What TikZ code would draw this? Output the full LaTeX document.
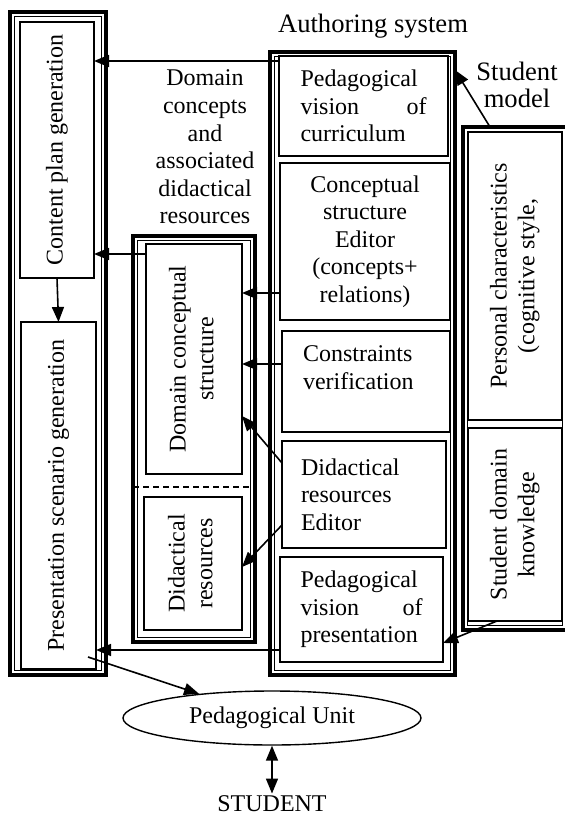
\documentclass[tikz,border=0pt]{standalone}
\usepackage{fontspec}
\setmainfont{Liberation Serif}
\usetikzlibrary{arrows.meta,shapes.geometric}

\begin{document}
\begin{tikzpicture}[x=0.5pt, y=-0.5pt,
  font=\fontsize{12}{13.8}\selectfont,
  cell/.style={draw, line width=0.8pt, inner sep=0pt, outer sep=0pt},
  thickbox/.style={draw, line width=2.2pt, inner sep=0pt, outer sep=0pt,
    path picture={\draw[line width=0.6pt]
      ([shift={(2.4pt,-2.4pt)}]path picture bounding box.north west) rectangle
      ([shift={(-2.4pt,2.4pt)}]path picture bounding box.south east);}},
  biglabel/.style={font=\fontsize{13.3}{13.8}\selectfont, align=center},
  arr/.style={-{Triangle[length=7.5pt,width=6pt]}, line width=0.8pt},
  dbl/.style={{Triangle[length=7.5pt,width=6pt]}-{Triangle[length=7.5pt,width=6pt]}, line width=0.8pt}]
\useasboundingbox (0,0) rectangle (565,818);

\node[thickbox, minimum width=48pt, minimum height=331.5pt] (gen) at (58,343.5) {};
\node[cell, minimum width=37pt, minimum height=128pt] (cpg) at (57,150) {\rotatebox{90}{Content plan generation}};
\node[cell, minimum width=37.5pt, minimum height=173.5pt] (psg) at (58.5,495.5) {\rotatebox{90}{Presentation scenario generation}};

\node (domlbl) [align=center] at (205,147) {Domain\\concepts\\and\\associated\\didactical\\resources};
\node[thickbox, minimum width=61pt, minimum height=203pt] (dom) at (194,439) {};
\node[cell, minimum width=48pt, minimum height=115pt] (dcs) at (194,359) {\rotatebox{90}{\begin{tabular}{@{}c@{}}Domain conceptual\\structure\end{tabular}}};
\node[cell, minimum width=49pt, minimum height=66.5pt] (dr) at (193,563.5) {\rotatebox{90}{\begin{tabular}{@{}c@{}}Didactical\\resources\end{tabular}}};
\draw[dashed, dash pattern=on 3pt off 2pt, line width=0.6pt] (dom.west |- 0,487) -- (dom.east |- 0,487);

\node (authlbl) [biglabel] at (373,26) {Authoring system};
\node[thickbox, minimum width=92.5pt, minimum height=311.5pt] (auth) at (362.5,363.5) {};
\node[cell, minimum width=84.5pt, minimum height=50pt, text width=63pt, align=left] (pvc) at (363.5,106)
  {Pedagogical\\\makebox[63pt]{vision\hfill of}\\curriculum};
\node[cell, minimum width=85pt, minimum height=78.5pt, text width=63pt, align=center] (cse) at (365,241.5)
  {Conceptual\\structure\\Editor\\(concepts+\\relations)};
\node[cell, minimum width=84pt, minimum height=50.5pt, text width=63pt, align=left] (cv) at (366,381.5)
  {Constraints\\verification\\~};
\node[cell, minimum width=82pt, minimum height=53.5pt, text width=63pt, align=left] (dre) at (364,494.5)
  {Didactical\\resources\\Editor};
\node[cell, minimum width=81.5pt, minimum height=52.5pt, text width=61pt, align=left] (pvp) at (361.5,609.5)
  {Pedagogical\\\makebox[61pt]{vision\hfill of}\\presentation};

\node (studlbl) [biglabel] at (517,85) {Student\\model};
\node[thickbox, minimum width=52pt, minimum height=251.5pt] (stud) at (515,378.5) {};
\node[cell, minimum width=47pt, minimum height=144pt] (pc) at (515,276) {\rotatebox{90}{\begin{tabular}{@{}c@{}}Personal characteristics\\(cognitive style,\end{tabular}}};
\node[cell, minimum width=47pt, minimum height=96.5pt] (sdk) at (515,524.5) {\rotatebox{90}{\begin{tabular}{@{}c@{}}Student domain\\knowledge\end{tabular}}};

\node[draw, ellipse, line width=0.7pt, minimum width=149pt, minimum height=27pt, inner sep=0pt] (pu) at (272,718) {Pedagogical Unit};
\node[inner sep=1pt] (stu) at (272,804) {STUDENT};

\draw[arr] (pvc.west |- 0,61) -- (cpg.east |- 0,61);
\draw[arr] (dcs.west |- 0,254) -- (cpg.east |- 0,254);
\draw[arr] (cpg.south) -- (psg.north);
\draw[arr] (cse.west |- 0,293) -- (dcs.east |- 0,293);
\draw[arr] (cv.west |- 0,364) -- (dcs.east |- 0,364);
\draw[arr] (dre.west |- 0,463) -- (dcs.east |- 0,416);
\draw[arr] (dre.west |- 0,525) -- (dr.east |- 0,567);
\draw[arr] (pvp.west |- 0,650) -- (psg.east |- 0,650);
\draw[arr] ([xshift=-4pt,yshift=6pt]psg.south east) -- (pu);
\draw[dbl] (pu.south) -- (stu.north);
\draw[arr] ([xshift=-12.5pt]stud.north) -- (auth.east |- 0,70);
\draw[arr] ([xshift=-9pt]sdk.south) -- (pvp.east |- 0,643);

\end{tikzpicture}
\end{document}
